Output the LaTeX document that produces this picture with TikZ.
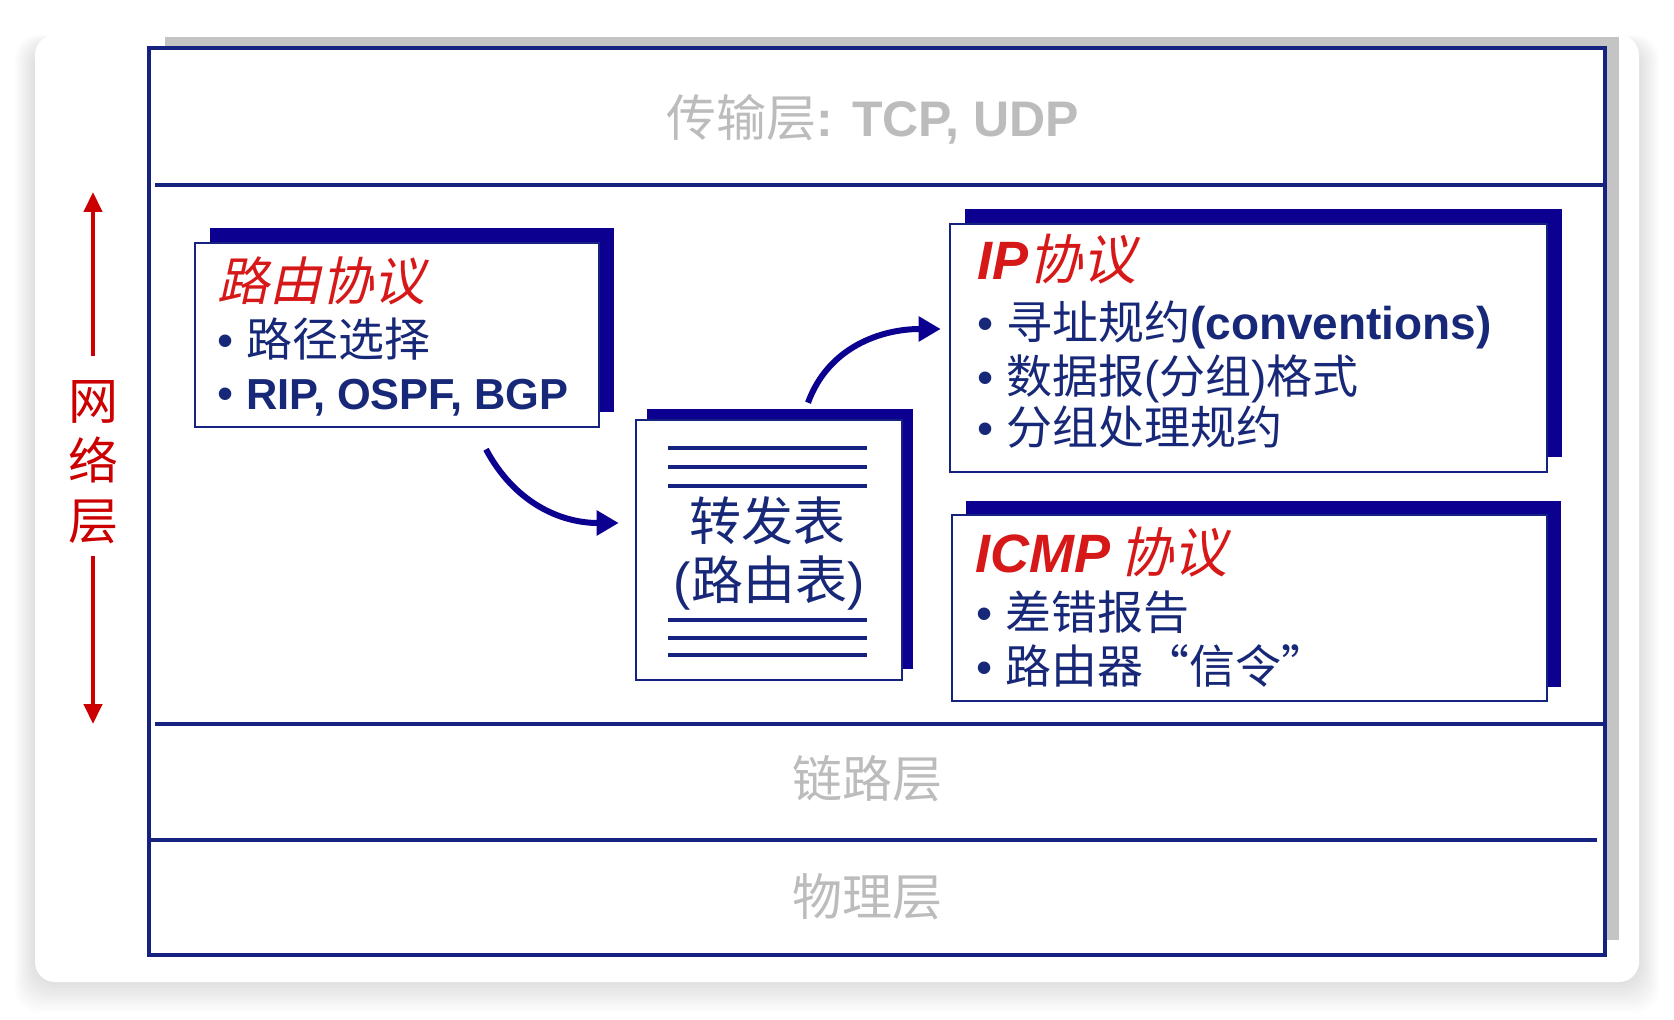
\documentclass[tikz,border=0pt]{standalone}
\usepackage{fontspec}
\setmainfont{Liberation Sans}
\newfontfamily\cjk{Noto Sans CJK SC}
\newfontfamily\cjkit[FakeSlant=0.22]{Noto Sans CJK SC}
\usetikzlibrary{positioning,arrows.meta,shadows}
\definecolor{boxline}{RGB}{22,34,128}
\definecolor{shadowblue}{RGB}{12,0,145}
\definecolor{textblue}{RGB}{24,40,120}
\definecolor{netred}{RGB}{204,0,0}
\definecolor{titlered}{RGB}{214,24,24}
\definecolor{layergray}{RGB}{188,188,188}
\definecolor{framegray}{RGB}{196,196,196}
\tikzset{
  panel/.style   = {draw=boxline, line width=1.3pt, fill=white, inner sep=0pt,
                    general shadow={fill=shadowblue, shadow xshift=#1, shadow yshift=#1}},
  panel/.default = 7.5pt,
  ptitle/.style  = {anchor=base west, inner sep=0pt, text=titlered, font=\fontsize{27}{30}\selectfont},
  pitem/.style   = {anchor=base west, inner sep=0pt, text=textblue, font=\fontsize{23}{26}\selectfont},
  layer/.style   = {inner sep=0pt, text=layergray, font=\fontsize{25}{28}\selectfont},
  flow/.style    = {-{Triangle[length=11pt, width=12pt]}, line width=3pt, draw=shadowblue},
  netarrow/.style = {-{Triangle[length=10pt, width=9pt]}, line width=2.2pt, draw=netred},
}

\begin{document}
\begin{tikzpicture}[x=0.5pt, y=-0.5pt]
  \useasboundingbox (0,0) rectangle (1674,1020);
  % card with soft shadow
  \foreach \i in {1,...,10}
    \fill[black, opacity=0.013, rounded corners=12pt] ({35-2*\i},{45-\i}) rectangle ({1639+2*\i},{982+3*\i});
  \fill[white, rounded corners=10pt] (35,35) rectangle (1639,982);

  % protocol stack frame
  \fill[framegray] (165,37) rectangle (1619,940);
  \draw[boxline, line width=1.6pt, fill=white] (149,48) rectangle (1605,955);
  \draw[boxline, line width=1.6pt] (155,185) -- (1605,185);
  \draw[boxline, line width=1.6pt] (155,724) -- (1605,724);
  \draw[boxline, line width=1.6pt] (149,840) -- (1597,840);

  % layer labels
  \node[layer, anchor=base] (trans) at (873,137) {{\cjk 传输层}\textbf{: TCP, UDP}};
  \node[layer] (link) at (867,779) {\cjk 链路层};
  \node[layer] (phys) at (867,897) {\cjk 物理层};

  % network layer
  \node[inner sep=0pt, text=netred, align=center, font=\fontsize{25}{30}\cjk] (net) at (93,462) {网\\络\\层};
  \coordinate (nettop) at (93,192);
  \coordinate (netbot) at (93,724);
  \draw[netarrow] ([yshift=12pt]net.north) -- (nettop);
  \draw[netarrow] ([yshift=-6pt]net.south) -- (netbot);

  % panels
  \node[panel, minimum width=202pt, minimum height=92pt] (route) at (397,335) {};
  \node[panel=5.5pt, minimum width=133pt, minimum height=130pt] (fwd) at (769,550) {};
  \node[panel, minimum width=298.5pt, minimum height=124pt] (ip) at (1248.5,348) {};
  \node[panel=7pt, minimum width=297.5pt, minimum height=93pt] (icmp) at (1249.5,608) {};

  % routing protocols
  \node[ptitle, font=\fontsize{26}{30}\selectfont] (rtitle) at (217,301) {\cjkit 路由协议};
  \node[pitem] (rpath) at (217,357) {\textbullet\ {\cjk 路径选择}};
  \node[pitem] (rrip) at (217,410) {\textbullet\ {\fontsize{21.7}{26}\selectfont\bfseries RIP, OSPF, BGP}};

  % forwarding table
  \node[inner sep=0pt, text=textblue, font=\fontsize{26}{30}\cjk] (fwdname) at (767,521) {转发表};
  \node[inner sep=0pt, text=textblue, font=\fontsize{26}{30}\selectfont] (fwdalt) at (769,583) {({\cjk 路由表})};
  \foreach \y in {448,467,486,620,638,655}
    \draw[boxline, line width=1.6pt] (668,\y) -- (867,\y);

  % IP
  \node[ptitle] (iptitle) at (977,280) {{\bfseries\itshape IP}{\cjkit 协议}};
  \node[pitem] (ipaddr) at (977,340) {\textbullet\ {\cjk 寻址规约}\textbf{(conventions)}};
  \node[pitem] (ipfmt) at (977,394) {\textbullet\ {\cjk 数据报}({\cjk 分组}){\cjk 格式}};
  \node[pitem] (ipproc) at (977,445) {\textbullet\ {\cjk 分组处理规约}};

  % ICMP
  \node[ptitle] (ictitle) at (975,573) {{\bfseries\itshape ICMP}\,{\cjkit 协议}};
  \node[pitem] (icerr) at (976,629) {\textbullet\ {\cjk 差错报告}};
  \node[pitem] (icsig) at (976,683) {\textbullet\ {\cjk 路由器“信令”}};

  % arrows
  \draw[flow] ([xshift=44.5pt,yshift=-10.5pt]route.south) to[out=-62, in=180] ([xshift=-8pt,yshift=13.5pt]fwd.west);
  \draw[flow] ([xshift=19.5pt,yshift=8pt]fwd.north) to[out=70, in=180] ([xshift=-4pt,yshift=9.5pt]ip.west);
\end{tikzpicture}
\end{document}
